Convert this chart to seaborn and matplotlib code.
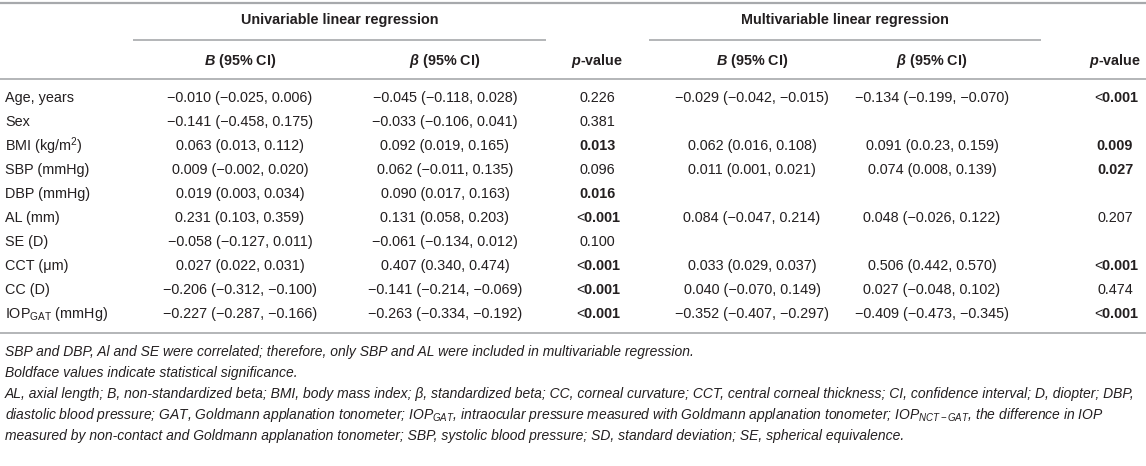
import matplotlib.pyplot as plt
import seaborn as sns

# table content
variables = ["Age, years", "Sex", r"BMI (kg/m$^2$)", "SBP (mmHg)", "DBP (mmHg)",
             "AL (mm)", "SE (D)", "CCT (\u03bcm)", "CC (D)", r"IOP$_{\mathrm{GAT}}$ (mmHg)"]

uni_b = ["\u22120.010 (\u22120.025, 0.006)", "\u22120.141 (\u22120.458, 0.175)",
         "0.063 (0.013, 0.112)", "0.009 (\u22120.002, 0.020)", "0.019 (0.003, 0.034)",
         "0.231 (0.103, 0.359)", "\u22120.058 (\u22120.127, 0.011)", "0.027 (0.022, 0.031)",
         "\u22120.206 (\u22120.312, \u22120.100)", "\u22120.227 (\u22120.287, \u22120.166)"]
uni_beta = ["\u22120.045 (\u22120.118, 0.028)", "\u22120.033 (\u22120.106, 0.041)",
            "0.092 (0.019, 0.165)", "0.062 (\u22120.011, 0.135)", "0.090 (0.017, 0.163)",
            "0.131 (0.058, 0.203)", "\u22120.061 (\u22120.134, 0.012)", "0.407 (0.340, 0.474)",
            "\u22120.141 (\u22120.214, \u22120.069)", "\u22120.263 (\u22120.334, \u22120.192)"]
uni_p = ["0.226", "0.381", "0.013", "0.096", "0.016", "<0.001", "0.100", "<0.001", "<0.001", "<0.001"]
uni_bold = [False, False, True, False, True, True, False, True, True, True]

multi_b = ["\u22120.029 (\u22120.042, \u22120.015)", "", "0.062 (0.016, 0.108)",
           "0.011 (0.001, 0.021)", "", "0.084 (\u22120.047, 0.214)", "",
           "0.033 (0.029, 0.037)", "0.040 (\u22120.070, 0.149)", "\u22120.352 (\u22120.407, \u22120.297)"]
multi_beta = ["\u22120.134 (\u22120.199, \u22120.070)", "", "0.091 (0.0.23, 0.159)",
              "0.074 (0.008, 0.139)", "", "0.048 (\u22120.026, 0.122)", "",
              "0.506 (0.442, 0.570)", "0.027 (\u22120.048, 0.102)", "\u22120.409 (\u22120.473, \u22120.345)"]
multi_p = ["<0.001", "", "0.009", "0.027", "", "0.207", "", "<0.001", "0.474", "<0.001"]
multi_bold = [True, False, True, True, False, False, False, True, False, True]

group_titles = ["Univariable linear regression", "Multivariable linear regression"]
col_headers = [r"$\mathbfit{B}$ (95% CI)", r"$\mathbfit{\beta}$ (95% CI)", r"$\mathbfit{p}$-value"]

footnotes = [
    "SBP and DBP, Al and SE were correlated; therefore, only SBP and AL were included in multivariable regression.",
    "Boldface values indicate statistical significance.",
    "AL, axial length; B, non-standardized beta; BMI, body mass index; \u03b2, standardized beta; CC, corneal curvature; "
    "CCT, central corneal thickness; CI, confidence interval; D, diopter; DBP,",
    r"diastolic blood pressure; GAT, Goldmann applanation tonometer; $IOP_{GAT}$, intraocular pressure measured "
    r"with Goldmann applanation tonometer; $IOP_{NCT-GAT}$, the difference in IOP",
    "measured by non-contact and Goldmann applanation tonometer; SBP, systolic blood pressure; "
    "SD, standard deviation; SE, spherical equivalence.",
]

sns.set_theme(style="white")
plt.rcParams['font.family'] = ['Liberation Sans', 'DejaVu Sans']
plt.rcParams['mathtext.fontset'] = 'custom'
plt.rcParams['mathtext.rm'] = 'Liberation Sans'
plt.rcParams['mathtext.it'] = 'Liberation Sans:italic'
plt.rcParams['mathtext.bf'] = 'Liberation Sans:bold'
plt.rcParams['mathtext.bfit'] = 'Liberation Sans:bold:italic'

text_color = "#231f20"
rule_color = "#a7a9ac"
fs = 10.4

fig = plt.figure(figsize=(11.46, 4.66), dpi=100)
ax = fig.add_axes([0, 0, 1, 1])
ax.set_xlim(0, 1146)
ax.set_ylim(466, 0)
ax.axis("off")

# column centres
col_x = [240, 445, 597, 752, 932, 1115]
group_x = [340, 845]
group_span = [(133, 546), (649, 1041)]

ax.hlines(3, 0, 1146, color=rule_color, lw=1.6)
for title, gx, (x0, x1) in zip(group_titles, group_x, group_span):
    ax.text(gx, 20, title, ha="center", va="center", fontsize=fs, fontweight="bold", color=text_color)
    ax.hlines(40, x0, x1, color=rule_color, lw=1.2)

for i, cx in enumerate(col_x):
    ax.text(cx, 61, col_headers[i % 3], ha="center", va="center", fontsize=fs,
            fontweight="bold", color=text_color)
ax.hlines(79, 0, 1146, color=rule_color, lw=1.2)

row_y0, row_h = 98, 24.0
for i, var in enumerate(variables):
    y = row_y0 + i * row_h
    ax.text(5, y, var, ha="left", va="center", fontsize=fs, color=text_color)
    cells = [uni_b[i], uni_beta[i], uni_p[i], multi_b[i], multi_beta[i], multi_p[i]]
    bolds = [False, False, uni_bold[i], False, False, multi_bold[i]]
    for cx, val, b in zip(col_x, cells, bolds):
        # the "<" sign stays in regular weight, as in the source table
        ax.text(cx, y, val.replace("<", r"${<}\!\!$"), ha="center", va="center", fontsize=fs,
                color=text_color, fontweight="bold" if b else "normal")

bottom = row_y0 + (len(variables) - 1) * row_h + 19
ax.hlines(bottom, 0, 1146, color=rule_color, lw=1.2)

for j, note in enumerate(footnotes):
    ax.text(5, bottom + 19 + j * 21, note, ha="left", va="center", fontsize=10,
            style="italic", color=text_color)

fig.savefig("out.png", dpi=100, facecolor="white")
